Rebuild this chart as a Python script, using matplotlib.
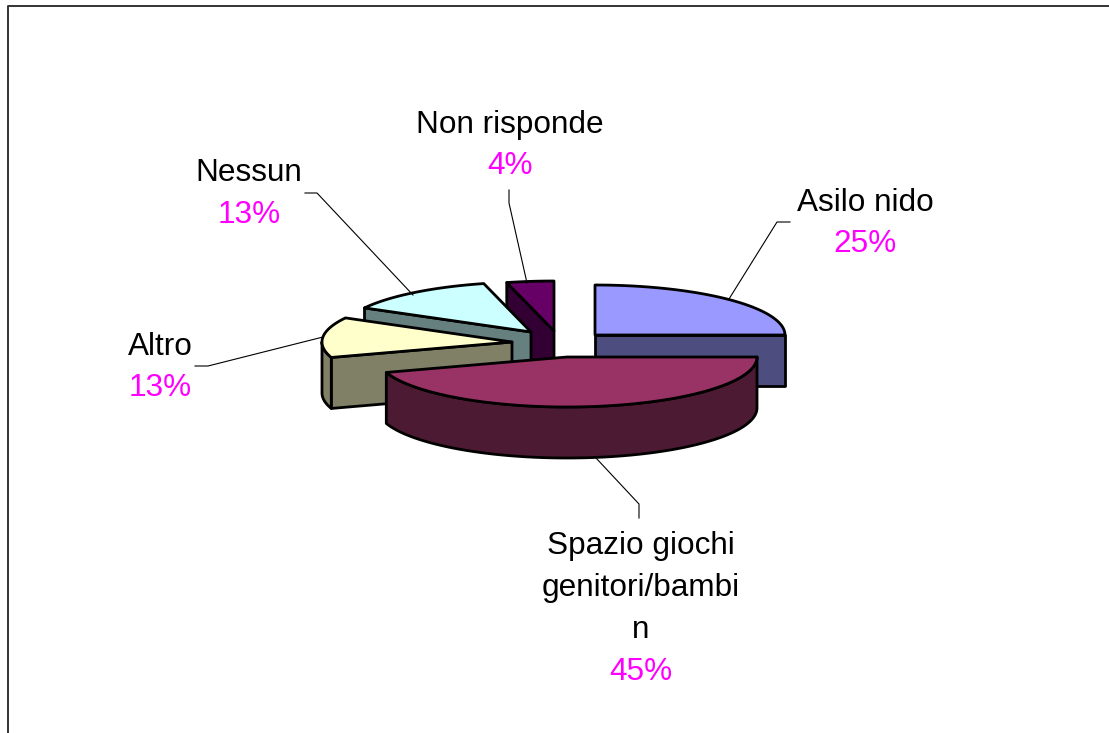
import numpy as np
import matplotlib
matplotlib.use('Agg')
import matplotlib.pyplot as plt
from matplotlib.patches import Polygon

plt.rcParams['font.family'] = ['Liberation Sans', 'DejaVu Sans']

# values, clockwise from 12 o'clock
names = ['Asilo nido', 'Spazio giochi\ngenitori/bambi\nn', 'Altro', 'Nessun', 'Non risponde']
values = [25, 45, 13, 13, 4]
top_colors = ['#9999FF', '#993366', '#FFFFCC', '#CCFFFF', '#660066']
side_colors = ['#4D4D80', '#4D1A33', '#808066', '#668080', '#330033']
# exploded slice centres, pixels
centres = [(595, 335), (567, 357), (512, 342), (531, 332), (554, 331)]
draw_order = [4, 3, 2, 0, 1]

label_pos = [(865, 203), (641, 546), (160, 347), (249, 173), (510, 125)]
pct_pos = [(865, 244), (641, 672), (160, 388), (249, 215), (510, 166)]
leaders = [
    [(790, 222), (777, 222), (729, 299)],
    [(639, 518), (639, 504), (596, 458)],
    [(195, 366), (208, 366), (323, 337)],
    [(305, 193), (317, 193), (413, 295)],
    [(509, 190), (509, 203), (527, 283)],
]

RX, RY, DEPTH = 190, 50, 51
EDGE = 2.0

fig = plt.figure(figsize=(11.09, 7.33), dpi=100)
ax = fig.add_axes([0, 0, 1, 1])
ax.set_xlim(0, 1109)
ax.set_ylim(733, 0)
ax.axis('off')

# chart frame, only top and left are in the picture
ax.plot([8, 8, 1109], [733, 6, 6], color='#333333', lw=1.4)

edges = np.cumsum([0] + values) / sum(values) * 2 * np.pi


def arc(cx, cy, a, b):
    t = np.linspace(a, b, 80)
    return np.column_stack([cx + RX * np.sin(t), cy - RY * np.cos(t)])


def draw_slice(i):
    cx, cy = centres[i]
    a, b = edges[i], edges[i + 1]
    pts = arc(cx, cy, a, b)
    apex = np.array([[cx, cy]])
    drop = np.array([0, DEPTH])
    side = dict(fc=side_colors[i], ec='black', lw=EDGE, joinstyle='round')
    # only the faces turned to the viewer
    if a >= np.pi:
        ax.add_patch(Polygon(np.vstack([apex, [pts[0]], [pts[0] + drop], apex + drop]), **side))
    if b <= np.pi:
        ax.add_patch(Polygon(np.vstack([apex, [pts[-1]], [pts[-1] + drop], apex + drop]), **side))
    lo, hi = max(a, np.pi / 2), min(b, 3 * np.pi / 2)
    if lo < hi:
        front = arc(cx, cy, lo, hi)
        ax.add_patch(Polygon(np.vstack([front, (front + drop)[::-1]]), **side))
    ax.add_patch(Polygon(np.vstack([apex, pts]), fc=top_colors[i], ec='black', lw=EDGE, joinstyle='round'))


for i in draw_order:
    draw_slice(i)

for line in leaders:
    xs, ys = zip(*line)
    ax.plot(xs, ys, color='black', lw=0.8)

for i in range(len(names)):
    for k, s in enumerate(names[i].split('\n')):
        ax.text(label_pos[i][0], label_pos[i][1] + 42 * k, s, fontsize=22.7, ha='center', va='center', color='black')
    ax.text(pct_pos[i][0], pct_pos[i][1], '%d%%' % values[i], fontsize=22.7, ha='center', va='center', color='#FF00FF')

fig.savefig('out.png', dpi=100)
